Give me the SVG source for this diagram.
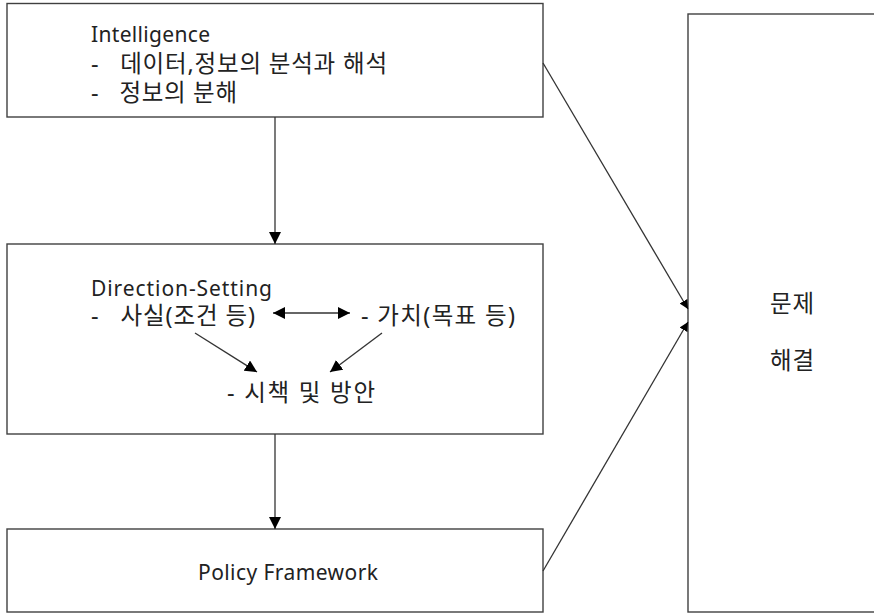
<svg xmlns="http://www.w3.org/2000/svg" width="874" height="615" viewBox="0 0 874 615">
<style>
.box{fill:#fff;stroke:#404040;stroke-width:1.4}
.t{font-family:"Noto Sans","Noto Sans CJK KR",sans-serif;font-size:21px;fill:#222}
.k{font-size:23.5px}
.c{stroke:#333;stroke-width:1.3;fill:none}
</style>
<defs>
<marker id="ah" viewBox="0 0 10 10" refX="10" refY="5" markerWidth="12" markerHeight="12" markerUnits="userSpaceOnUse" orient="auto-start-reverse">
<path d="M0,0 L10,5 L0,10 z" fill="#000"/>
</marker>
<marker id="ahs" viewBox="0 0 10 10" refX="10" refY="5" markerWidth="9" markerHeight="9" markerUnits="userSpaceOnUse" orient="auto">
<path d="M0,0 L10,5 L0,10 z" fill="#000"/>
</marker>
</defs>
<rect width="874" height="615" fill="#fff"/>
<g id="intelligence">
<rect class="box" x="7" y="3.5" width="536" height="113.5"/>
<text class="t" x="91" y="42" textLength="119" lengthAdjust="spacing">Intelligence</text>
<text class="t k" x="91" y="72" xml:space="preserve" textLength="296" lengthAdjust="spacing">-   데이터,정보의 분석과 해석</text>
<text class="t k" x="91" y="101" xml:space="preserve" textLength="146" lengthAdjust="spacing">-   정보의 분해</text>
</g>
<g id="direction-setting">
<rect class="box" x="7" y="244" width="536" height="190"/>
<text class="t" x="91" y="296" textLength="181" lengthAdjust="spacing">Direction-Setting</text>
<text class="t k" x="91" y="324" xml:space="preserve" textLength="164" lengthAdjust="spacing">-   사실(조건 등)</text>
<text class="t k" x="361" y="324" textLength="154" lengthAdjust="spacing">- 가치(목표 등)</text>
<text class="t k" x="227" y="401" textLength="148" lengthAdjust="spacing">- 시책 및 방안</text>
</g>
<g id="policy-framework">
<rect class="box" x="7" y="529" width="536" height="83"/>
<text class="t" x="198" y="580" textLength="180" lengthAdjust="spacing">Policy Framework</text>
</g>
<g id="problem-solving">
<rect class="box" x="688" y="14" width="200" height="598"/>
<text class="t k" x="770" y="312" textLength="44" lengthAdjust="spacing">문제</text>
<text class="t k" x="770" y="369" textLength="44" lengthAdjust="spacing">해결</text>
</g>
<g id="connectors">
<line class="c" x1="275" y1="117" x2="275" y2="244" marker-end="url(#ah)"/>
<line class="c" x1="275" y1="434" x2="275" y2="529" marker-end="url(#ah)"/>
<line class="c" x1="273" y1="313" x2="350" y2="313" marker-start="url(#ah)" marker-end="url(#ah)"/>
<line class="c" x1="195" y1="333" x2="257" y2="372" marker-end="url(#ah)"/>
<line class="c" x1="382" y1="333" x2="330" y2="372" marker-end="url(#ah)"/>
<line class="c" x1="543" y1="63" x2="688" y2="309" marker-end="url(#ahs)"/>
<line class="c" x1="543" y1="571" x2="688" y2="322" marker-end="url(#ahs)"/>
</g>
</svg>
